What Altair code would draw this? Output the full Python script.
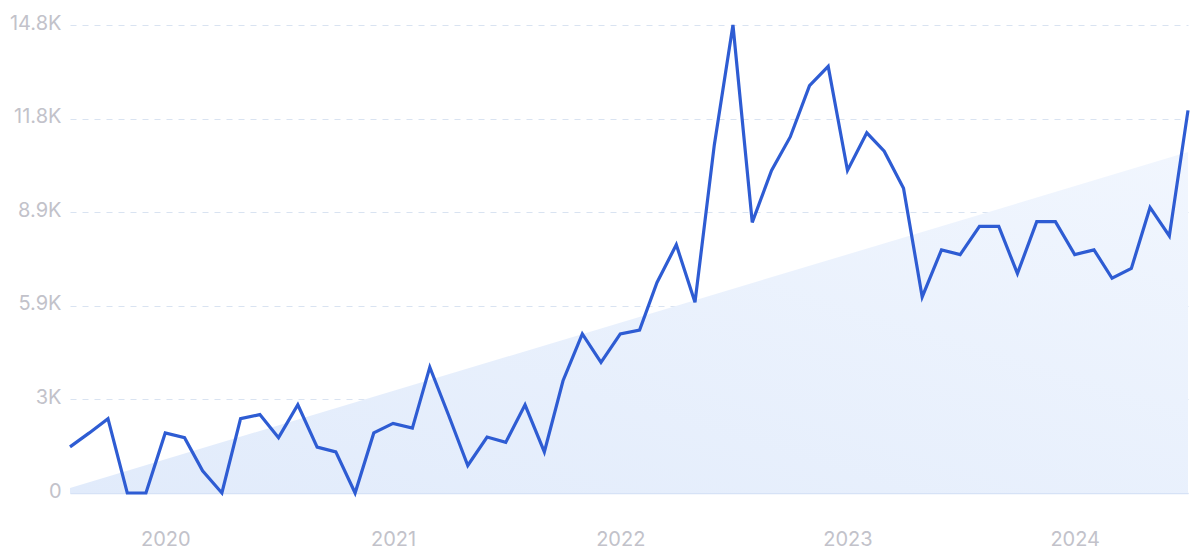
import altair as alt
import pandas as pd

months = [d.strftime("%Y-%m-%d") for d in pd.date_range("2019-08-01", "2024-07-01", freq="MS")]
values = [1460, 1900, 2350, 0, 0, 1900, 1750, 700, 0, 2350,
          2480, 1750, 2790, 1450, 1300, 0, 1900, 2200, 2050, 3980,
          2420, 870, 1770, 1600, 2790, 1300, 3550, 5030, 4130, 5030,
          5150, 6660, 7850, 6030, 11000, 14800, 8560, 10200, 11260, 12880,
          13490, 10200, 11390, 10810, 9640, 6200, 7690, 7540, 8430, 8430,
          6940, 8580, 8580, 7540, 7690, 6790, 7100, 9030, 8130, 12100]

trend_dates = ["2019-08-01", "2024-07-01"]
trend_values = [158, 10780]

y_ticks = [0, 2960, 5920, 8880, 11840, 14800]
y_labels = ["0", "3K", "5.9K", "8.9K", "11.8K", "14.8K"]

df = pd.DataFrame({"date": months, "value": values})
trend = pd.DataFrame({"date": trend_dates, "value": trend_values})

label_expr = " : ".join(
    [f"datum.value == {v} ? '{l}'" for v, l in zip(y_ticks, y_labels)]
) + " : ''"

x_scale = alt.Scale(type="utc", domain=[months[0], months[-1]], nice=False, padding=0)
y_scale = alt.Scale(domain=[0, 14800], nice=False, zero=True)

x_axis = alt.Axis(
    title=None, format="%Y", tickCount={"interval": "year", "step": 1},
    grid=False, ticks=False, domain=True, domainColor="#d6e2f6", domainWidth=1.5,
    labelColor="#c2c2ca", labelFontSize=20, labelPadding=36, labelFont="Inter",
)
y_axis = alt.Axis(
    title=None, values=y_ticks, labelExpr=label_expr, ticks=False, domain=False,
    grid=True, gridColor="#d9e3f1", gridDash=[6, 6], gridWidth=1,
    labelColor="#c2c2ca", labelFontSize=20, labelPadding=9, labelFont="Inter",
    labelOffset=-2,
)

area = alt.Chart(trend).mark_area(
    color=alt.Gradient(
        gradient="linear",
        stops=[alt.GradientStop(color="#e1ebfb", offset=0),
               alt.GradientStop(color="#f1f6fe", offset=1)],
        x1=0, y1=1, x2=1, y2=0,
    ),
    opacity=1,
).encode(
    x=alt.X("date:T", scale=x_scale, axis=x_axis),
    y=alt.Y("value:Q", scale=y_scale, axis=y_axis),
)

line = alt.Chart(df).mark_line(
    color="#2e5cd3", strokeWidth=3.2, strokeJoin="miter",
).encode(
    x=alt.X("date:T", scale=x_scale),
    y=alt.Y("value:Q", scale=y_scale),
)

chart = alt.layer(area, line).properties(
    width=1118, height=468,
    autosize=alt.AutoSizeParams(type="none"),
    padding={"left": 62, "top": 17, "right": 4, "bottom": 62},
).configure(background="white", view=alt.ViewConfig(stroke=None))

chart.save("out.html", embed_options={"renderer": "svg", "actions": False})
